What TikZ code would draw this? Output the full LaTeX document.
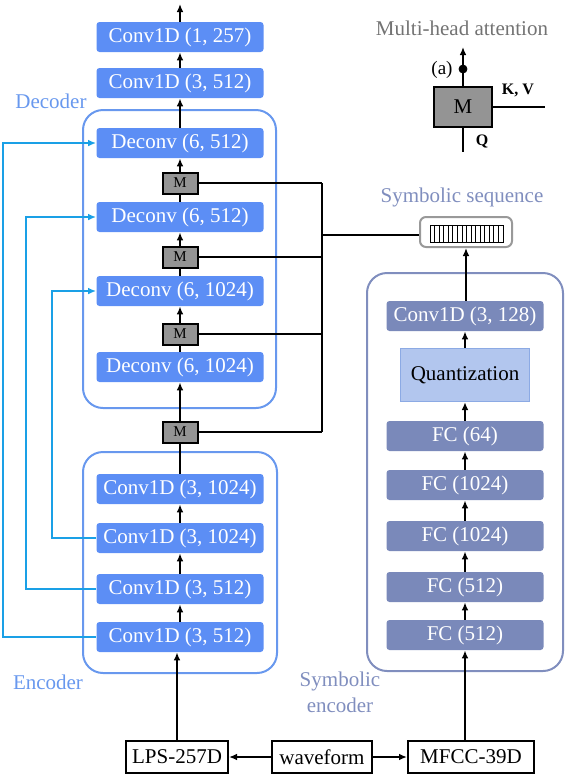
\documentclass[tikz,border=0pt]{standalone}
\usepackage{fontspec}
\setmainfont{Liberation Serif}
\usepackage{xcolor}
\usetikzlibrary{positioning,arrows.meta}

\definecolor{layerblue}{RGB}{92,142,245}
\definecolor{groupblue}{RGB}{104,152,238}
\definecolor{symblue}{RGB}{122,137,186}
\definecolor{symgroup}{RGB}{128,142,190}
\definecolor{quantfill}{RGB}{178,198,238}
\definecolor{quantline}{RGB}{140,170,228}
\definecolor{skipblue}{RGB}{26,160,230}

\tikzset{
  layer/.style={fill=layerblue,rounded corners=1.5pt,minimum width=83.5pt,minimum height=15pt,
    inner sep=0pt,text=white,font=\fontsize{10.5}{12}\selectfont},
  symlayer/.style={layer,fill=symblue,minimum width=78.5pt},
  quant/.style={draw=quantline,fill=quantfill,line width=0.6pt,minimum width=64.5pt,minimum height=26.5pt,
    inner sep=0pt,font=\fontsize{10.5}{12}\selectfont},
  inbox/.style={draw=black,line width=1pt,minimum height=16pt,inner sep=0pt,font=\fontsize{10.5}{12}\selectfont},
  mbox/.style={draw=black,line width=1pt,fill=black!42,minimum width=17.5pt,minimum height=10.5pt,
    inner sep=0pt,font=\fontsize{7.5}{8}\selectfont},
  group/.style={draw=groupblue,line width=1pt,rounded corners=10pt},
  grouplabel/.style={text=groupblue,font=\fontsize{10.5}{12}\selectfont},
  flow/.style={->,line width=1pt},
  link/.style={line width=1pt},
  skip/.style={->,draw=skipblue,line width=1pt}
}

\begin{document}
\begin{tikzpicture}[x=0.5pt,y=-0.5pt,>={Latex[length=4pt,width=3.4pt]}]
		\useasboundingbox (0,0) rectangle (573,784);

		% Gruppen
		\draw[group] (83,110) rectangle (276,408);
		\draw[group] (83,452) rectangle (277,673);
		\draw[group,draw=symgroup] (367,273) rectangle (563,671);
		\node[grouplabel] (declbl) at (51,101) {Decoder};
		\node[grouplabel] (enclbl) at (48,682) {Encoder};
		\node[grouplabel,text=symgroup,align=center,font=\fontsize{10.5}{13}\selectfont] (symlbl) at (340,692) {Symbolic\\encoder};
		\node[grouplabel,text=symgroup] (seqlbl) at (462,197) {Symbolic sequence};

		% Decoder
		\node[layer] (out) at (180,37) {Conv1D (1, 257)};
		\node[layer] (dconv) at (180,83) {Conv1D (3, 512)};
		\node[layer] (dec1) at (180,143) {Deconv (6, 512)};
		\node[mbox] (m1) at (180,183) {M};
		\node[layer] (dec2) at (180,217) {Deconv (6, 512)};
		\node[mbox] (m2) at (180,257) {M};
		\node[layer] (dec3) at (180,291) {Deconv (6, 1024)};
		\node[mbox] (m3) at (180,334) {M};
		\node[layer] (dec4) at (180,367) {Deconv (6, 1024)};
		\node[mbox] (m4) at (180,432) {M};

		% Encoder
		\node[layer] (enc4) at (180,489) {Conv1D (3, 1024)};
		\node[layer] (enc3) at (180,538) {Conv1D (3, 1024)};
		\node[layer] (enc2) at (180,589) {Conv1D (3, 512)};
		\node[layer] (enc1) at (180,637) {Conv1D (3, 512)};

		% Eingaenge
		\node[inbox,minimum width=51pt] (lps) at (177,757) {LPS-257D};
		\node[inbox,minimum width=50pt] (wav) at (322,757) {waveform};
		\node[inbox,minimum width=63pt] (mfcc) at (471,757) {MFCC-39D};

		% Symbolic encoder
		\node[symlayer] (fc1) at (465,635) {FC (512)};
		\node[symlayer] (fc2) at (465,587) {FC (512)};
		\node[symlayer] (fc3) at (465,536) {FC (1024)};
		\node[symlayer] (fc4) at (465,485) {FC (1024)};
		\node[symlayer] (fc5) at (465,436) {FC (64)};
		\node[quant] (quant) at (465,375) {Quantization};
		\node[symlayer] (sconv) at (465,316) {Conv1D (3, 128)};
		\node[draw=black!40,line width=1pt,fill=white,rounded corners=3pt,minimum width=46pt,minimum height=15pt,inner sep=0pt] (seq) at (466,232) {};
		\draw[line width=0.5pt] (430,225) rectangle (503,242);
		\foreach \s in {1,...,15} \draw[line width=0.4pt] (430+\s*73/16,225) -- (430+\s*73/16,242);

		% Pfeile Hauptpfad
		\coordinate (outtop) at (180,4);
		\draw[flow] (out.north) -- (outtop);
		\draw[flow] (dconv) -- (out);
		\draw[flow] (dec1) -- (dconv);
		\draw[flow] (m1) -- (dec1);
		\draw[link] (dec2) -- (m1);
		\draw[flow] (m2) -- (dec2);
		\draw[link] (dec3) -- (m2);
		\draw[flow] (m3) -- (dec3);
		\draw[link] (dec4) -- (m3);
		\draw[flow] (m4) -- (dec4);
		\draw[link] (enc4) -- (m4);
		\draw[flow] (enc3) -- (enc4);
		\draw[flow] (enc2) -- (enc3);
		\draw[flow] (enc1) -- (enc2);
		\draw[flow] (lps.north) -- (lps.north |- enc1.south);
		\draw[flow] (wav) -- (lps);
		\draw[flow] (wav) -- (mfcc);
		\draw[flow] (fc1.south |- mfcc.north) -- (fc1.south);
		\draw[flow] (fc1) -- (fc2);
		\draw[flow] (fc2) -- (fc3);
		\draw[flow] (fc3) -- (fc4);
		\draw[flow] (fc4) -- (fc5);
		\draw[flow] (fc5.north) -- (fc5.north |- quant.south);
		\draw[flow] (sconv.south |- quant.north) -- (sconv.south);
		\draw[flow] (sconv.north -| seq.south) -- (seq.south);

		% Bus zur Symbolsequenz
		\coordinate (bus) at (322,235);
		\draw[link] (m1.east) -- (m1.east -| bus);
		\draw[link] (m2.east) -- (m2.east -| bus);
		\draw[link] (m3.east) -- (m3.east -| bus);
		\draw[link] (m4.east) -- (m4.east -| bus);
		\draw[link] (m1.east -| bus) -- (m4.east -| bus);
		\draw[link] (bus) -- (bus -| seq.west);

		% Skip-Verbindungen
		\coordinate (sk1) at (3,0);
		\coordinate (sk2) at (26,0);
		\coordinate (sk3) at (52,0);
		\draw[skip] (enc1.west) -- (enc1.west -| sk1) |- (dec1.west);
		\draw[skip] (enc2.west) -- (enc2.west -| sk2) |- (dec2.west);
		\draw[skip] (enc3.west) -- (enc3.west -| sk3) |- (dec3.west);

		% Legende
		\node[text=black!55,font=\fontsize{10.5}{12}\selectfont] (mhalbl) at (462,28) {Multi-head attention};
		\node[mbox,line width=1.2pt,minimum width=29pt,minimum height=20pt,font=\fontsize{10.5}{12}\selectfont] (mleg) at (463,107) {M};
		\coordinate (legtop) at (463,47);
		\coordinate (legbot) at (463,152);
		\coordinate (legright) at (545,107);
		\draw[flow] (mleg.north) -- (legtop);
		\draw[link] (mleg.south) -- (legbot);
		\draw[link] (mleg.east) -- (legright);
		\filldraw[black] (463,69) circle (2pt);
		\node[font=\fontsize{9.5}{11}\selectfont] (alb) at (442,70) {(a)};
		\node[font=\bfseries\fontsize{8}{9}\selectfont] (kvlb) at (518,90) {K, V};
		\node[font=\bfseries\fontsize{8}{9}\selectfont] (qlb) at (482,141) {Q};
	\end{tikzpicture}
\end{document}
